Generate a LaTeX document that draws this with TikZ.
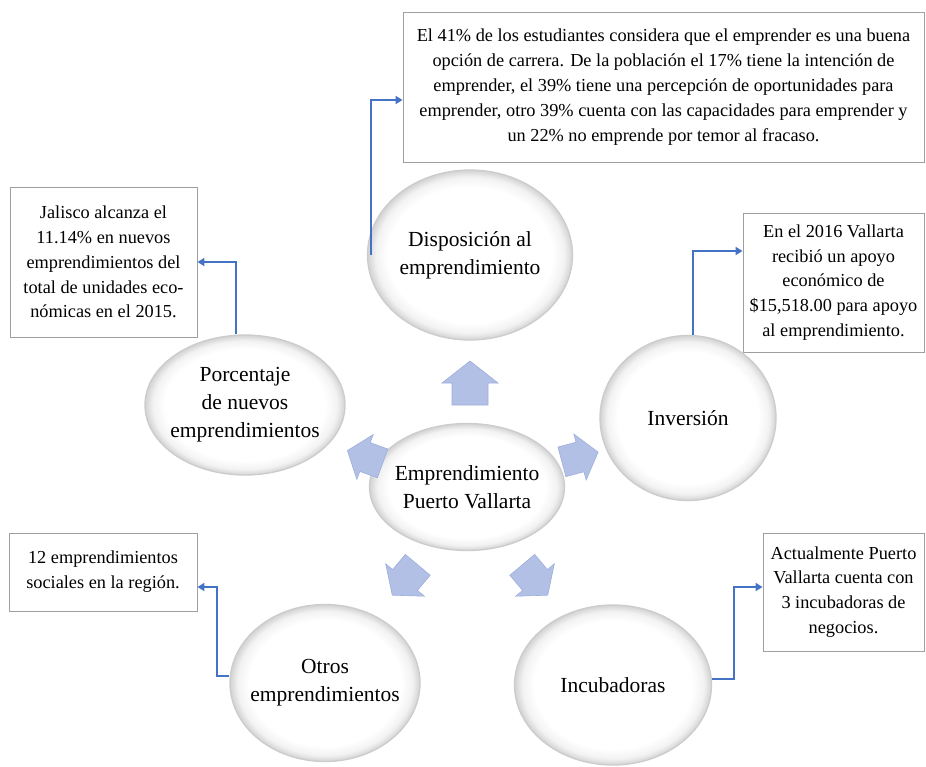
\documentclass[tikz,border=0pt]{standalone}
\usepackage{fontspec}
\setmainfont{Liberation Serif}
\usetikzlibrary{shapes.geometric,arrows.meta}
\definecolor{conblue}{HTML}{4472C4}
\definecolor{arrfill}{HTML}{B3C0E6}
\definecolor{arredge}{HTML}{9DAEDC}
\pgfdeclareradialshading{bubbleshade}{\pgfpoint{0bp}{0bp}}{color(0bp)=(white); color(20bp)=(white); color(23bp)=(gray!10); color(25bp)=(gray!35); color(50bp)=(gray!35)}
\begin{document}
\begin{tikzpicture}[x=1pt,y=-1pt,
 bubble/.style={ellipse, draw=gray!40, line width=1.3pt, shading=bubbleshade, font=\fontsize{21.5}{28}\selectfont, align=center, inner xsep=-18pt, inner ysep=0pt},
 infobox/.style={draw=gray!75, line width=0.9pt, fill=white, font=\fontsize{18.3}{24.8}\selectfont, align=center, inner sep=0pt},
 conn/.style={draw=conblue, line width=1.8pt, -{Triangle[length=7pt,width=8pt]}},
 blockarrow/.pic={\filldraw[fill=arrfill, draw=arredge, line width=0.6pt] (-22,-18) -- (0,-18) -- (0,-28) -- (22,0) -- (0,28) -- (0,18) -- (-22,18) -- cycle;}
]
\useasboundingbox[fill=white] (0,0) rectangle (926,766);

% info boxes
\node[infobox, minimum width=521, minimum height=150] (topbox) at (663.5,87) {El 41\% de los estudiantes considera que el emprender es una buena\\opción de carrera. De la población el 17\% tiene la intención de\\emprender, el 39\% tiene una percepción de oportunidades para\\emprender, otro 39\% cuenta con las capacidades para emprender y\\un 22\% no emprende por temor al fracaso.};
\node[infobox, minimum width=187, minimum height=150] (jal) at (103.5,262) {Jalisco alcanza el\\11.14\% en nuevos\\emprendimientos del\\total de unidades eco-\\nómicas en el 2015.};
\node[infobox, minimum width=181, minimum height=139] (invbox) at (833.5,282.5) {En el 2016 Vallarta\\recibió un apoyo\\económico de\\\$15,518.00 para apoyo\\al emprendimiento.};
\node[infobox, minimum width=188, minimum height=78] (soc) at (103,572) {12 emprendimientos\\sociales en la región.};
\node[infobox, minimum width=161, minimum height=118] (act) at (843.5,592) {Actualmente Puerto\\Vallarta cuenta con\\3 incubadoras de\\negocios.};

% bubbles
\node[bubble, minimum width=205, minimum height=170] (disp) at (470,255) {Disposición al\\emprendimiento};
\node[bubble, minimum width=200, minimum height=140] (porc) at (245,405) {Porcentaje\\de nuevos\\emprendimientos};
\node[bubble, minimum width=176, minimum height=165] (inv) at (688,418) {Inversión};
\node[bubble, minimum width=195, minimum height=127] (cen) at (467,487) {Emprendimiento\\Puerto Vallarta};
\node[bubble, minimum width=190, minimum height=157] (otros) at (325,683) {Otros\\emprendimientos};
\node[bubble, minimum width=197, minimum height=160] (incub) at (613,685) {Incubadoras};

% block arrows
\pic[rotate=90] at (470,383) {blockarrow};
\pic[rotate=160, scale=0.85] at (365,457) {blockarrow};
\pic[rotate=15, scale=0.85] at (580,457) {blockarrow};
\pic[rotate=-130, scale=0.9] at (405,580) {blockarrow};
\pic[rotate=-50, scale=0.9] at (535,580) {blockarrow};

% connectors
\draw[conn] ([xshift=4.5pt]disp.west) |- ([yshift=-13pt]topbox.west);
\draw[conn] ([xshift=-9pt]porc.north) |- (jal.east);
\draw[conn] ([xshift=5pt]inv.north) |- ([yshift=31.5pt]invbox.west);
\draw[conn] ([yshift=7pt]otros.west) -- ++(-12,0) |- ([yshift=-15pt]soc.east);
\draw[conn] ([yshift=6pt]incub.east) -- ++(22,0) |- ([yshift=5pt]act.west);
\end{tikzpicture}
\end{document}
